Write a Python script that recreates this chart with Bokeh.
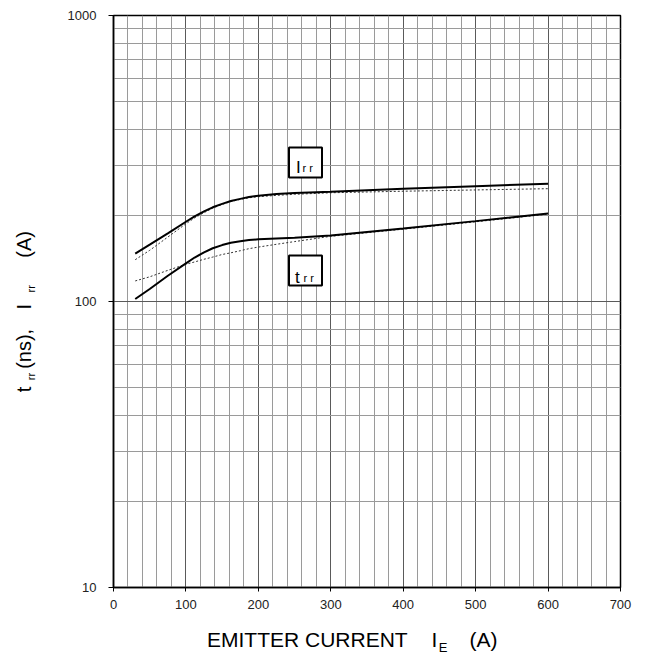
import math
from bokeh.plotting import figure
from bokeh.models import FixedTicker, Label, LinearAxis
from bokeh.embed import file_html
from bokeh.resources import INLINE

# ---- data ----
irr_x = [30, 50, 75, 100, 112, 125, 137, 150, 162, 175, 187, 200, 225, 250, 300, 400, 500, 600]
irr_solid = [147, 158, 173, 190, 198.5, 206.5, 213.5, 219.5, 224.5, 228.5, 232, 234.5, 237.5, 239.5, 242, 248, 253, 258]
irr_dash = [140, 151, 168, 187, 196, 204.5, 212, 218.5, 223.5, 227.5, 230.5, 232.5, 235, 237, 240, 243, 245.5, 248]

trr_x = [30, 50, 75, 100, 112, 125, 137, 150, 162, 175, 187, 200, 225, 250, 300, 400, 500, 600]
trr_solid = [102, 110.6, 123, 136, 142.5, 148.5, 153.5, 157.5, 160.5, 162.5, 164, 165, 166, 167, 170, 180, 191, 203]
trr_dash = [118, 122, 128.5, 135, 137.5, 140.5, 143, 146, 148, 150.5, 153, 155, 158.5, 162, 169, 179, 190, 202]

x_ticks = [0, 100, 200, 300, 400, 500, 600, 700]
x_minor = [v for v in range(0, 701, 20) if v % 100 != 0]
y_ticks = [10, 100, 1000]
y_minor = [20, 30, 40, 50, 60, 70, 80, 90, 200, 300, 400, 500, 600, 700, 800, 900]
y_tick_labels = {10: "10", 100: "100", 1000: "1000"}

# axis-title pieces: text and centre position (page pixels)
x_title_main = ["EMITTER CURRENT", "I", "(A)"]
x_title_main_cx = [306.8, 434.0, 483.0]
x_title_sub = ["E"]
x_title_sub_cx = [442.5]
y_title_main = ["t", "(ns),", "I", "(A)"]
y_title_main_cy = [390.2, 349.5, 307.2, 244.7]
y_title_sub = ["rr", "rr"]
y_title_sub_cy = [377.3, 289.3]

FONT = "Liberation Sans"

# frame geometry (pixels) used to place annotation texts
FL, FW, FT, FH = 113.0, 507.0, 15.0, 574.0
def px2x(px):
    return round((px - FL) / FW * 700.0, 4)
def py2y(py):
    return round(10 ** (1 + (FT + FH - py) / (FH / 2.0)), 5)

p = figure(width=640, height=657, x_range=(0, 700), y_range=(10, 1000),
           y_axis_type="log", output_backend="svg", toolbar_location=None,
           min_border_left=113, min_border_right=20, min_border_top=15,
           min_border_bottom=68)

p.xaxis.ticker = FixedTicker(ticks=x_ticks, minor_ticks=x_minor)
p.yaxis.ticker = FixedTicker(ticks=y_ticks, minor_ticks=y_minor)
p.xgrid.ticker = p.xaxis.ticker
p.ygrid.ticker = p.yaxis.ticker
p.yaxis.major_label_overrides = y_tick_labels

for ax in (p.xaxis, p.yaxis):
    ax.axis_line_color = "black"
    ax.axis_line_width = 1.5
    ax.major_tick_line_color = "black"
    ax.major_tick_in = 0
    ax.minor_tick_in = 0
    ax.minor_tick_out = 0
    ax.major_label_text_font = FONT
    ax.major_label_text_font_size = "13px"
    ax.major_label_text_color = "#222222"
p.xaxis.major_tick_out = 4
p.xaxis.major_label_standoff = 8
p.yaxis.major_tick_out = 5
p.yaxis.major_label_standoff = 12

p.outline_line_color = "black"
p.outline_line_width = 1.5

for g in (p.xgrid, p.ygrid):
    g.grid_line_color = "#5a5a5a"
    g.grid_line_width = 1
    g.minor_grid_line_color = "#9a9a9a"
    g.minor_grid_line_width = 1

# curves
p.line(irr_x, irr_dash, line_color="#333333", line_width=1, line_dash="2 2")
p.line(trr_x, trr_dash, line_color="#333333", line_width=1, line_dash="2 2")
p.line(irr_x, irr_solid, line_color="black", line_width=2)
p.line(trr_x, trr_solid, line_color="black", line_width=2)

# boxed curve labels
box_cx = [px2x(305), px2x(305)]
box_cy = [py2y(162.5), py2y(271)]
p.rect(box_cx, box_cy, width=33, height=30, width_units="screen", height_units="screen",
       fill_color="white", line_color="black", line_width=2)

def lab(txt, px, py, size):
    p.add_layout(Label(x=px2x(px), y=py2y(py), text=txt, text_font=FONT,
                       text_font_size=size, text_color="black",
                       text_align="left", text_baseline="alphabetic"))

lab("I", 295.5, 168, "17px")
lab("r r", 302, 168.5, "11px")
lab("t", 294.5, 278, "17px")
lab("r r", 303, 278.5, "11px")

# axis titles built from label-only axes (so they are not clipped to the frame)
def title_axis(side, texts, positions, conv, size, standoff, vertical=False):
    vals = [conv(v) for v in positions]
    ax = LinearAxis(ticker=FixedTicker(ticks=vals, minor_ticks=[]),
                    major_label_overrides={v: t for v, t in zip(vals, texts)})
    ax.axis_line_color = None
    ax.major_tick_line_color = None
    ax.minor_tick_line_color = None
    ax.major_tick_out = 0
    ax.major_tick_in = 0
    ax.minor_tick_out = 0
    ax.minor_tick_in = 0
    ax.major_label_standoff = standoff
    ax.major_label_text_font = FONT
    ax.major_label_text_font_size = size
    ax.major_label_text_color = "black"
    if vertical:
        ax.major_label_orientation = "vertical"
    p.add_layout(ax, side)
    return ax

title_axis("below", x_title_main, x_title_main_cx, px2x, "21px", 16)
title_axis("below", x_title_sub, x_title_sub_cx, px2x, "13px", -14)
title_axis("left", y_title_sub, y_title_sub_cy, py2y, "11px", 27, vertical=True)
title_axis("left", y_title_main, y_title_main_cy, py2y, "20px", -13, vertical=True)

open("out.html", "w").write(file_html(p, INLINE))
